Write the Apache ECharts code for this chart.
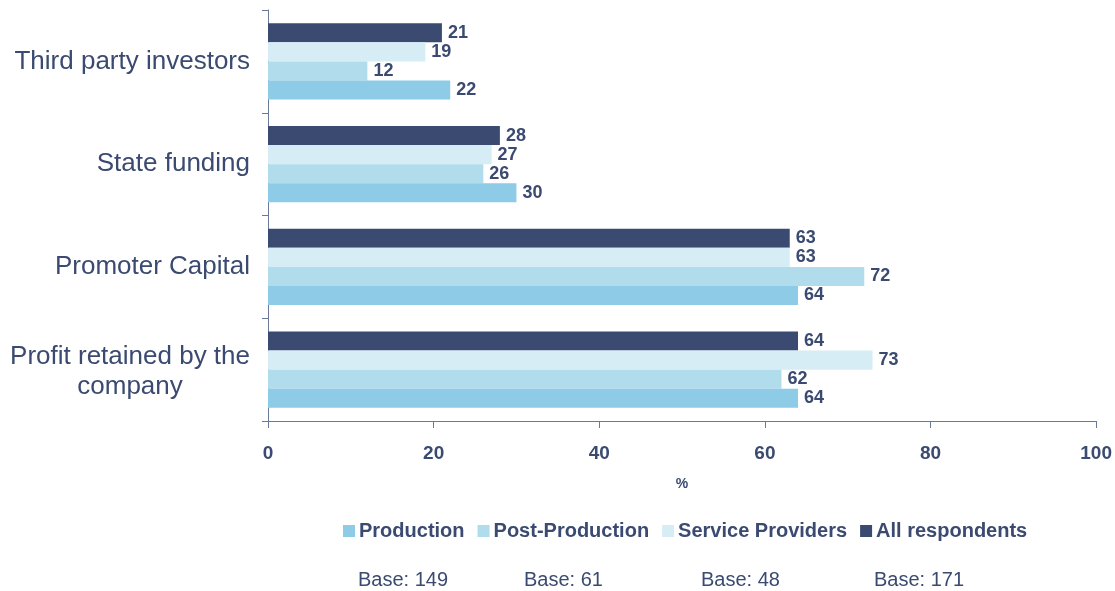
<!DOCTYPE html>
<html>
<head>
<meta charset="utf-8">
<script src="https://cdn.jsdelivr.net/npm/echarts@6/dist/echarts.min.js"></script>
<style>html,body{margin:0;padding:0;background:#fff;}#c{width:1115px;height:591px;}</style>
</head>
<body>
<div id="c"></div>
<script>
const categories = ['Profit retained by the company', 'Promoter Capital', 'State funding', 'Third party investors'];
const seriesNames = ['Production', 'Post-Production', 'Service Providers', 'All respondents'];
const production = [64, 64, 30, 22];
const postProduction = [62, 72, 26, 12];
const serviceProviders = [73, 63, 27, 19];
const allRespondents = [64, 63, 28, 21];
const baseLabels = ['Base: 149', 'Base: 61', 'Base: 48', 'Base: 171'];
const xTicks = [0, 20, 40, 60, 80, 100];

const navy = '#3A4A70';
const colors = ['#8DCBE6', '#B0DCEC', '#D6EDF6', '#3A4A70'];
const values = [production, postProduction, serviceProviders, allRespondents];
const FF = 'Liberation Sans, Arial, sans-serif';

const chart = echarts.init(document.getElementById('c'), null, {renderer: 'canvas'});

// ECharts draws the first series at the top of each band here, so add them in reverse
const order = [3, 2, 1, 0];

chart.setOption({
  animation: false,
  textStyle: {fontFamily: FF},
  grid: {left: 268, right: 18, top: 10, bottom: 170, containLabel: false},
  legend: {
    data: seriesNames,
    top: 516,
    left: 338,
    itemWidth: 12, itemHeight: 12, itemGap: 13,
    icon: 'rect',
    textStyle: {fontFamily: FF, fontWeight: 'bold', fontSize: 20, color: navy, padding: [0, 0, 0, -1]}
  },
  xAxis: {
    type: 'value', min: xTicks[0], max: xTicks[xTicks.length - 1], interval: 20,
    name: '%', nameLocation: 'middle', nameGap: 56,
    nameTextStyle: {fontFamily: FF, fontWeight: 'bold', fontSize: 14, color: navy},
    axisLine: {show: true, lineStyle: {color: '#6A789A', width: 1}},
    axisTick: {show: true, length: 7, lineStyle: {color: '#6A789A'}},
    splitLine: {show: false},
    axisLabel: {margin: 23, fontFamily: FF, fontWeight: 'bold', fontSize: 19, color: navy}
  },
  yAxis: {
    type: 'category', data: categories,
    axisLine: {show: true, lineStyle: {color: '#6A789A', width: 1}},
    axisTick: {show: true, length: 6, lineStyle: {color: '#6A789A'}},
    axisLabel: {
      margin: 18, fontSize: 26, color: navy, lineHeight: 30, fontFamily: FF,
      formatter: function (v) {
        if (v === 'Profit retained by the company') {
          return '{a|Profit retained by the}\n{a|company}';
        }
        return v;
      },
      rich: {a: {align: 'center', fontSize: 26, color: navy, lineHeight: 30, fontFamily: FF, padding: [4, 0, 0, 0]}}
    }
  },
  series: order.map(i => ({
    name: seriesNames[i],
    type: 'bar',
    data: values[i],
    barGap: '0%',
    barCategoryGap: '26%',
    itemStyle: {color: colors[i]},
    label: {show: true, position: 'right', distance: 6, fontFamily: FF, fontWeight: 'bold', fontSize: 18, color: navy}
  })),
  graphic: baseLabels.map((t, i) => ({
    type: 'text',
    left: [358, 524, 701, 874][i],
    top: 570,
    style: {text: t, font: '20px Liberation Sans, Arial, sans-serif', fill: navy}
  }))
});
</script>
</body>
</html>
